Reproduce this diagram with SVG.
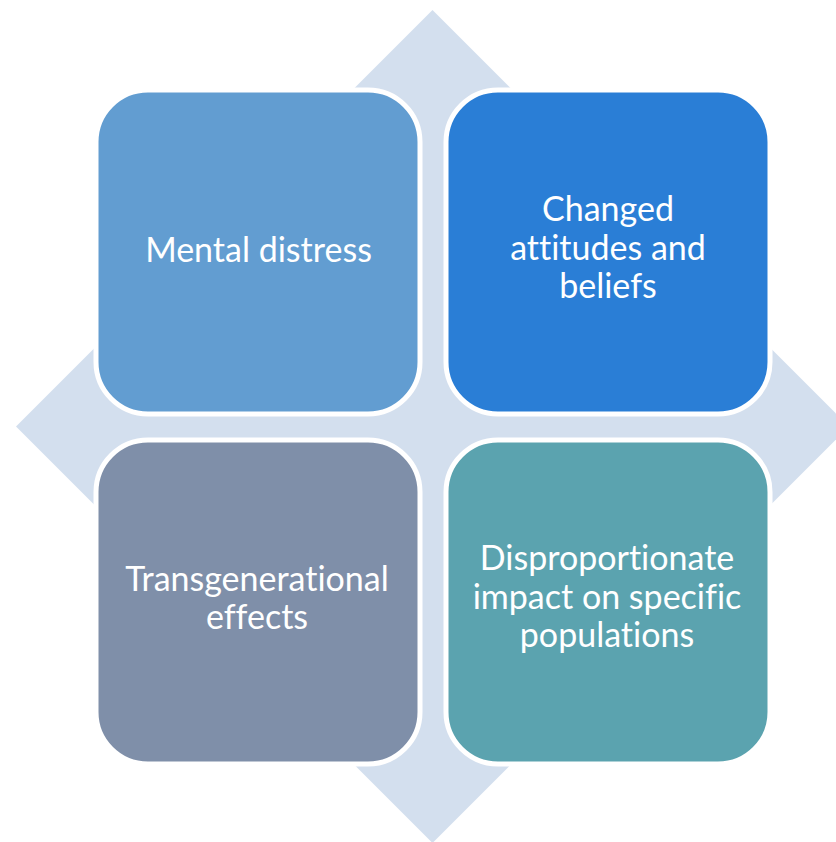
<svg xmlns="http://www.w3.org/2000/svg" width="836" height="842" viewBox="0 0 836 842">
<style>
.box{stroke:#FFFFFF;stroke-width:5}
.lbl{font-family:"Gill Sans","Lato","Liberation Sans",sans-serif;font-size:34px;fill:#FFFFFF;text-anchor:middle;font-variant-ligatures:none}
</style>
<rect width="836" height="842" fill="#FFFFFF"/>
<g id="background">
<polygon points="432.5,10 849,426.5 432.5,843 16,426.5" fill="#D3DFEE"/>
</g>
<g id="node-mental-distress">
<rect class="box" x="96" y="90" width="324" height="324" rx="52" fill="#629DD1"/>
<text class="lbl" x="258.5" y="262">Mental distress</text>
</g>
<g id="node-changed-attitudes">
<rect class="box" x="446" y="90" width="324" height="324" rx="52" fill="#2A7ED6"/>
<text class="lbl" x="608" y="221">Changed</text>
<text class="lbl" x="608" y="260">attitudes and</text>
<text class="lbl" x="608" y="298">beliefs</text>
</g>
<g id="node-transgenerational">
<rect class="box" x="96" y="440" width="324" height="324" rx="52" fill="#7F8FA9"/>
<text class="lbl" x="257" y="591">Transgenerational</text>
<text class="lbl" x="257" y="629">effects</text>
</g>
<g id="node-disproportionate">
<rect class="box" x="446" y="440" width="324" height="324" rx="52" fill="#5BA3AF"/>
<text class="lbl" x="607" y="570">Disproportionate</text>
<text class="lbl" x="607" y="609">impact on specific</text>
<text class="lbl" x="607" y="647">populations</text>
</g>
<g id="connectors"></g>
</svg>
